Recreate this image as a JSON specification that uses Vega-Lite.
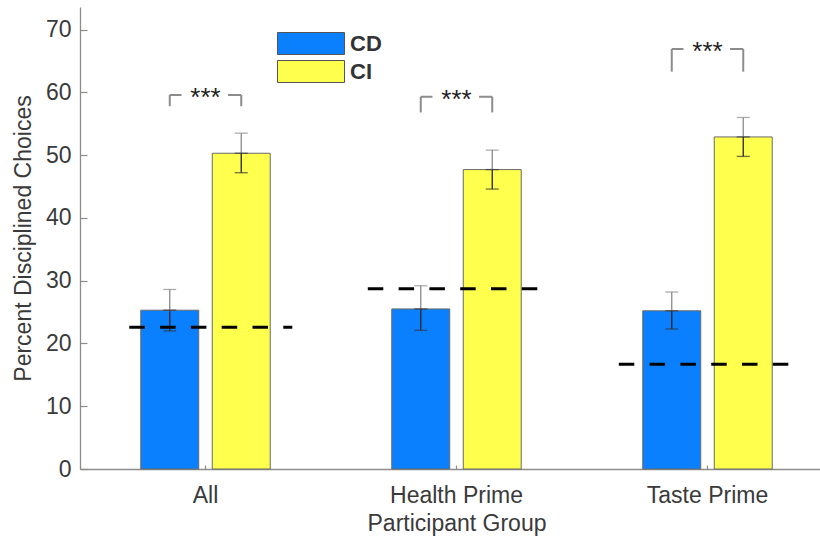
{
  "$schema": "https://vega.github.io/schema/vega-lite/v6.json",
  "width": 740,
  "height": 462,
  "autosize": {"type": "none"},
  "padding": {"left": 80, "top": 7, "right": 0, "bottom": 71},
  "background": "white",
  "config": {
    "view": {"stroke": null},
    "font": "Liberation Sans",
    "axis": {
      "domainColor": "#8c8c8c",
      "domainWidth": 1.3,
      "ticks": false,
      "gridColor": "#8c8c8c",
      "gridWidth": 1.2,
      "labelFont": "Liberation Sans",
      "labelFontSize": 23,
      "labelColor": "#3a3a3a",
      "titleFont": "Liberation Sans",
      "titleFontSize": 23,
      "titleFontWeight": "normal",
      "titleColor": "#3a3a3a"
    }
  },
  "datasets": {
    "bars": [
      {"group": "All", "series": "CD", "mean": 25.3, "lo": 22.0, "hi": 28.6},
      {"group": "All", "series": "CI", "mean": 50.3, "lo": 47.2, "hi": 53.5},
      {"group": "Health Prime", "series": "CD", "mean": 25.5, "lo": 22.1, "hi": 29.2},
      {"group": "Health Prime", "series": "CI", "mean": 47.7, "lo": 44.6, "hi": 50.8},
      {"group": "Taste Prime", "series": "CD", "mean": 25.2, "lo": 22.3, "hi": 28.2},
      {"group": "Taste Prime", "series": "CI", "mean": 52.9, "lo": 49.8, "hi": 56.0}
    ],
    "ticks": [
      {"group": "All", "series": "CD", "top": 59.6, "bottom": 57.8},
      {"group": "All", "series": "CI", "top": 59.6, "bottom": 57.8},
      {"group": "Health Prime", "series": "CD", "top": 59.3, "bottom": 56.8},
      {"group": "Health Prime", "series": "CI", "top": 59.3, "bottom": 56.8},
      {"group": "Taste Prime", "series": "CD", "top": 66.9, "bottom": 63.3},
      {"group": "Taste Prime", "series": "CI", "top": 66.9, "bottom": 63.3}
    ],
    "brackets": [
      {"group": "All", "top": 59.6, "label": "***"},
      {"group": "Health Prime", "top": 59.3, "label": "***"},
      {"group": "Taste Prime", "top": 66.9, "label": "***"}
    ],
    "refs": [
      {"group": "All", "level": 22.6},
      {"group": "Health Prime", "level": 28.7},
      {"group": "Taste Prime", "level": 16.7}
    ]
  },
  "layer": [
    {
      "data": {"name": "bars"},
      "mark": {"type": "bar", "stroke": "#6a6a6a", "strokeWidth": 1},
      "encoding": {
        "x": {
          "field": "group", "type": "nominal", "title": "Participant Group",
          "scale": {"domain": ["All", "Health Prime", "Taste Prime"], "range": [0, 753], "paddingInner": 0, "paddingOuter": 0},
          "axis": {"labelAngle": 0, "grid": true, "gridDash": [0, 458, 4, 2000], "labelPadding": 15, "titlePadding": 5}
        },
        "xOffset": {
          "field": "series", "type": "nominal",
          "scale": {"domain": ["CD", "CI"], "paddingInner": 0.189, "paddingOuter": 0.85}
        },
        "y": {
          "field": "mean", "type": "quantitative", "title": "Percent Disciplined Choices",
          "scale": {"domain": [0, 73.6], "nice": false, "zero": true},
          "axis": {"values": [0, 10, 20, 30, 40, 50, 60, 70], "grid": true, "gridDash": [7, 2000], "labelPadding": 9, "titlePadding": 10}
        },
        "fill": {
          "field": "series", "type": "nominal",
          "scale": {"domain": ["CD", "CI"], "range": ["#0a80ff", "#ffff4d"]},
          "legend": {
            "orient": "none", "legendX": 197, "legendY": 25, "title": null,
            "symbolType": "M-1,-0.328H1V0.328H-1Z", "symbolSize": 4489,
            "symbolStrokeColor": "#555555", "symbolStrokeWidth": 1,
            "labelFont": "Liberation Sans", "labelFontSize": 22, "labelFontWeight": "bold",
            "labelColor": "#333333", "labelOffset": 5, "rowPadding": 5, "clipHeight": 23
          }
        }
      }
    },
    {
      "data": {"name": "bars"},
      "mark": {"type": "rule", "color": "#8a8a8a", "strokeWidth": 1.3},
      "encoding": {
        "x": {"field": "group", "type": "nominal", "title": "Participant Group"},
        "xOffset": {"field": "series", "type": "nominal"},
        "y": {"field": "mean", "type": "quantitative", "title": "Percent Disciplined Choices"},
        "y2": {"field": "hi"}
      }
    },
    {
      "data": {"name": "bars"},
      "mark": {"type": "rule", "color": "#222222", "strokeWidth": 1.3},
      "encoding": {
        "x": {"field": "group", "type": "nominal", "title": "Participant Group"},
        "xOffset": {"field": "series", "type": "nominal"},
        "y": {"field": "lo", "type": "quantitative", "title": "Percent Disciplined Choices"},
        "y2": {"field": "mean"}
      }
    },
    {
      "data": {"name": "bars"},
      "mark": {"type": "tick", "color": "#8a8a8a", "size": 13, "thickness": 1.3, "orient": "horizontal"},
      "encoding": {
        "x": {"field": "group", "type": "nominal", "title": "Participant Group"},
        "xOffset": {"field": "series", "type": "nominal"},
        "y": {"field": "hi", "type": "quantitative", "title": "Percent Disciplined Choices"}
      }
    },
    {
      "data": {"name": "bars"},
      "mark": {"type": "tick", "color": "#333333", "size": 13, "thickness": 1.3, "orient": "horizontal"},
      "encoding": {
        "x": {"field": "group", "type": "nominal", "title": "Participant Group"},
        "xOffset": {"field": "series", "type": "nominal"},
        "y": {"field": "lo", "type": "quantitative", "title": "Percent Disciplined Choices"}
      }
    },
    {
      "data": {"name": "bars"},
      "mark": {"type": "tick", "color": "#333333", "size": 13, "thickness": 1.3, "orient": "horizontal"},
      "encoding": {
        "x": {"field": "group", "type": "nominal", "title": "Participant Group"},
        "xOffset": {"field": "series", "type": "nominal"},
        "y": {"field": "mean", "type": "quantitative", "title": "Percent Disciplined Choices"}
      }
    },
    {
      "data": {"name": "ticks"},
      "mark": {"type": "rule", "color": "#8c8c8c", "strokeWidth": 2},
      "encoding": {
        "x": {"field": "group", "type": "nominal", "title": "Participant Group"},
        "xOffset": {"field": "series", "type": "nominal"},
        "y": {"field": "top", "type": "quantitative", "title": "Percent Disciplined Choices"},
        "y2": {"field": "bottom"}
      }
    },
    {
      "data": {"name": "brackets"},
      "mark": {"type": "rule", "color": "#8c8c8c", "strokeWidth": 2, "strokeDash": [11.7, 46.6, 14, 100]},
      "encoding": {
        "x": {"field": "group", "type": "nominal", "title": "Participant Group", "bandPosition": 0.3576},
        "x2": {"field": "group", "bandPosition": 0.6424},
        "y": {"field": "top", "type": "quantitative", "title": "Percent Disciplined Choices"}
      }
    },
    {
      "data": {"name": "brackets"},
      "mark": {"type": "text", "color": "#222222", "font": "Liberation Sans", "fontSize": 26, "baseline": "alphabetic", "align": "center", "dy": 11},
      "encoding": {
        "x": {"field": "group", "type": "nominal", "title": "Participant Group"},
        "y": {"field": "top", "type": "quantitative", "title": "Percent Disciplined Choices"},
        "text": {"field": "label"}
      }
    },
    {
      "data": {"name": "refs"},
      "transform": [{"filter": "datum.group === 'All'"}],
      "mark": {"type": "rule", "color": "#000000", "strokeWidth": 3, "strokeDash": [15.5, 15.3]},
      "encoding": {
        "x": {"field": "group", "type": "nominal", "title": "Participant Group", "bandPosition": 0.1964},
        "x2": {"field": "group", "bandPosition": 0.8458},
        "y": {"field": "level", "type": "quantitative", "title": "Percent Disciplined Choices"}
      }
    },
    {
      "data": {"name": "refs"},
      "transform": [{"filter": "datum.group !== 'All'"}],
      "mark": {"type": "rule", "color": "#000000", "strokeWidth": 3, "strokeDash": [15.5, 15.3]},
      "encoding": {
        "x": {"field": "group", "type": "nominal", "title": "Participant Group", "bandPosition": 0.1466},
        "x2": {"field": "group", "bandPosition": 0.8221},
        "y": {"field": "level", "type": "quantitative", "title": "Percent Disciplined Choices"}
      }
    }
  ]
}
